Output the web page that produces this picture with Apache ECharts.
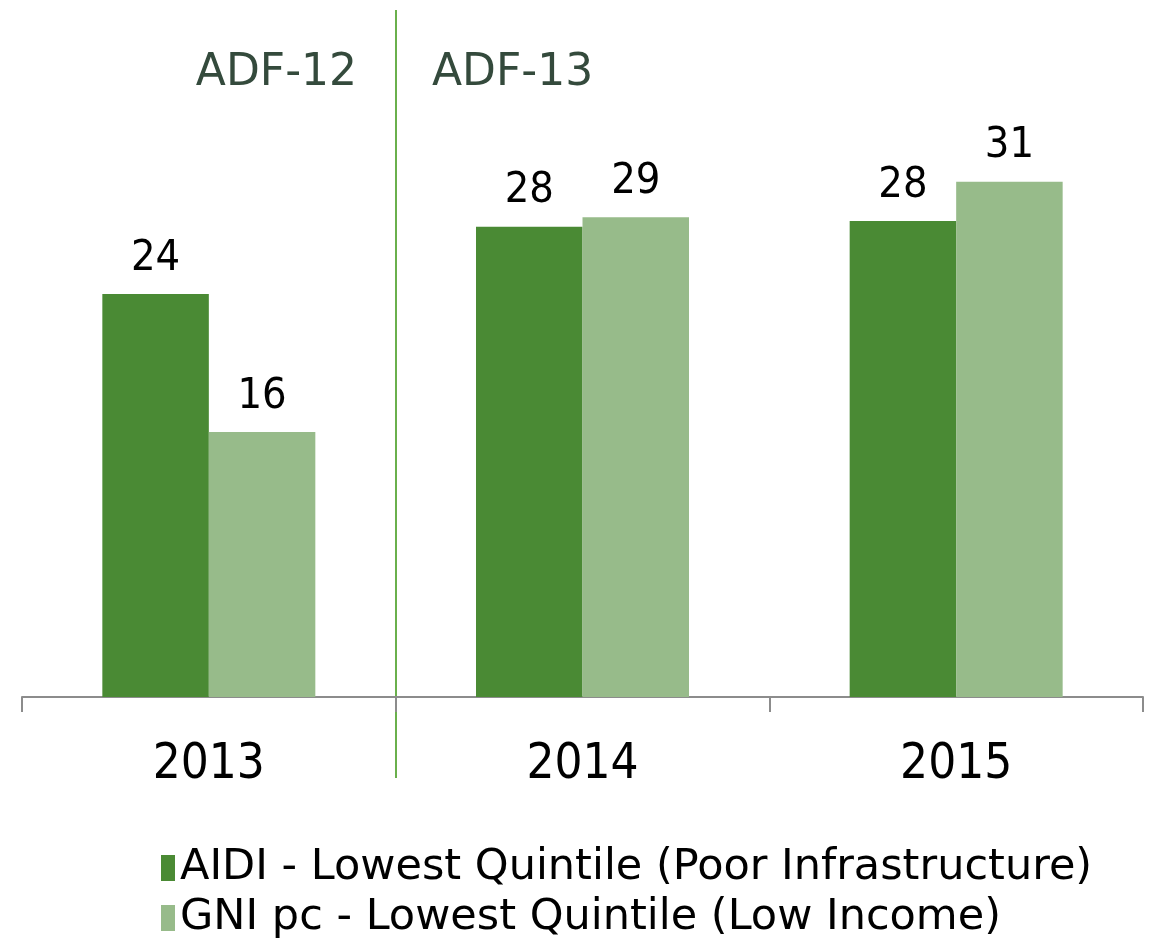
<!DOCTYPE html>
<html lang="en">
<head>
  <meta charset="UTF-8">
  <title>AIDI vs GNI</title>
  <style>
    html, body { margin: 0; padding: 0; background: #fff; }
  </style>
</head>
<body>
  <div style="width:1150px;height:943px" id="echart"></div>
  <script type="text/javascript" src="https://cdn.jsdelivr.net/npm/echarts@6/dist/echarts.min.js"></script>
  <script>
    var years = ['2013', '2014', '2015'];
    var aidiName = 'AIDI - Lowest Quintile (Poor Infrastructure)';
    var gniName = 'GNI pc - Lowest Quintile (Low Income)';
    var aidiValues = [24.06, 28.08, 28.42];
    var gniValues = [15.82, 28.64, 30.76];
    var periodLabels = ['ADF-12', 'ADF-13'];

    var font = "'DejaVu Sans Condensed', 'DejaVu Sans', sans-serif";
    var wideFont = "'DejaVu Sans', sans-serif";
    var myChart = echarts.init(document.querySelector('#echart'));

    var barLabel = {
      show: true, position: 'top', distance: 14,
      fontFamily: font, fontSize: 43, color: '#000',
      formatter: function (p) { return Math.round(p.value); }
    };

    var option = {
      animation: false,
      color: ['#4a8a34', '#97bb8a'],
      grid: { left: 22, right: 7, top: 27, bottom: 246, containLabel: false },
      legend: {
        orient: 'vertical',
        left: 161,
        top: 843,
        padding: 0,
        itemWidth: 14,
        itemHeight: 26,
        itemGap: 0,
        icon: 'rect',
        textStyle: { fontFamily: wideFont, fontSize: 43, lineHeight: 50, color: '#000' },
        data: [aidiName, gniName]
      },
      xAxis: {
        type: 'category',
        data: years,
        axisLine: { lineStyle: { color: '#8c8c8c', width: 2 } },
        axisTick: { show: true, length: 15, lineStyle: { color: '#8c8c8c', width: 2 } },
        axisLabel: { fontFamily: font, fontSize: 49, color: '#000', margin: 44 }
      },
      yAxis: {
        type: 'value',
        min: 0,
        max: 40,
        show: false,
        splitLine: { show: false }
      },
      series: [{
        name: aidiName,
        type: 'bar',
        data: aidiValues,
        barGap: 0,
        barCategoryGap: '43%',
        label: barLabel
      }, {
        name: gniName,
        type: 'bar',
        data: gniValues,
        label: barLabel
      }],
      graphic: [{
        type: 'line',
        shape: { x1: 396, y1: 10, x2: 396, y2: 778 },
        style: { stroke: '#6ab04c', lineWidth: 2 }
      }, {
        type: 'text',
        right: 1150 - 357,
        top: 52,
        style: { text: periodLabels[0], font: '44px ' + wideFont, fill: '#344a3c' }
      }, {
        type: 'text',
        left: 432,
        top: 52,
        style: { text: periodLabels[1], font: '44px ' + wideFont, fill: '#344a3c' }
      }]
    };
    myChart.setOption(option);
  </script>
</body>
</html>
